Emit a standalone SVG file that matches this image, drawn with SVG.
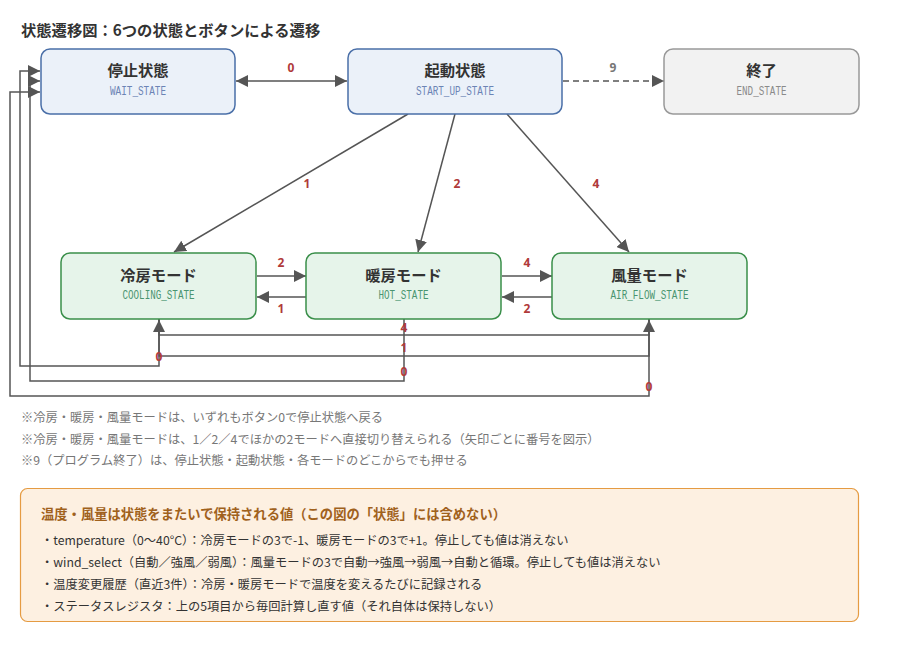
<svg xmlns="http://www.w3.org/2000/svg" width="900" height="650" viewBox="0 0 900 650">
<defs>
<marker id="arr" markerUnits="userSpaceOnUse" markerWidth="12" markerHeight="12" refX="12" refY="6" orient="auto-start-reverse" viewBox="0 0 12 12">
<path d="M0,0 L12,6 L0,12 z" fill="#555"/>
</marker>
<style>
text{font-family:"Noto Sans CJK JP","Noto Sans",sans-serif;dominant-baseline:central}
.ttl{font-size:15.3px;font-weight:bold;fill:#333}
.nt{font-size:15.3px;font-weight:bold;fill:#333;text-anchor:middle}
.sub{font-family:"Liberation Mono","DejaVu Sans Mono",monospace;font-size:12.5px;text-anchor:middle}
.sb{fill:#6b84b5}
.sg{fill:#4a9470}
.se{fill:#8a8a8a}
.blue{fill:#ebf1f9;stroke:#4a6fa8;stroke-width:1.5}
.green{fill:#e6f4ea;stroke:#3a8f4a;stroke-width:1.5}
.grey{fill:#f2f2f2;stroke:#999;stroke-width:1.5}
.e{fill:none;stroke:#555;stroke-width:1.5;marker-end:url(#arr)}
.lb{font-family:"Noto Sans",sans-serif;font-size:12px;font-weight:bold;fill:#b03a3a;text-anchor:middle}
.lg{fill:#777}
.note{font-size:12.25px;fill:#777}
.bt{font-size:13.3px;font-weight:bold;fill:#a0611c}
.bb{font-size:12.25px;fill:#333}
</style>
</defs>
<rect width="900" height="650" fill="#fff"/>
<text class="ttl" x="21" y="29">状態遷移図：6つの状態とボタンによる遷移</text>

<g id="connectors">
<line class="e" x1="236" y1="81" x2="347" y2="81" marker-start="url(#arr)"/>
<line class="e" x1="563" y1="81" x2="664" y2="81" stroke-dasharray="6 4"/>
<line class="e" x1="408" y1="114" x2="174" y2="252"/>
<line class="e" x1="455" y1="114" x2="418" y2="252"/>
<line class="e" x1="507" y1="114" x2="629" y2="252"/>
<line class="e" x1="257" y1="276" x2="306" y2="276"/>
<line class="e" x1="306" y1="297" x2="257" y2="297"/>
<line class="e" x1="502" y1="276" x2="552" y2="276"/>
<line class="e" x1="552" y1="297" x2="502" y2="297"/>
<path class="e" d="M159,319 V335 H649 V320"/>
<path class="e" d="M649,319 V356 H159 V320"/>
<path class="e" d="M159,319 V366 H20 V71 H40"/>
<path class="e" d="M404,319 V381 H30 V81 H40"/>
<path class="e" d="M649,319 V396 H10 V92 H40"/>
<text class="lb" x="291" y="67">0</text>
<text class="lb lg" x="613" y="67">9</text>
<text class="lb" x="307" y="183">1</text>
<text class="lb" x="457" y="183">2</text>
<text class="lb" x="596" y="183">4</text>
<text class="lb" x="281" y="262">2</text>
<text class="lb" x="281" y="308">1</text>
<text class="lb" x="527" y="262">4</text>
<text class="lb" x="527" y="308">2</text>
<text class="lb" x="404" y="327">4</text>
<text class="lb" x="404" y="347">1</text>
<text class="lb" x="159" y="356">0</text>
<text class="lb" x="404" y="371">0</text>
<text class="lb" x="649" y="386">0</text>
</g>

<g id="wait">
<rect class="blue" x="41" y="49" width="194" height="65" rx="9"/>
<text class="nt" x="138" y="69">停止状態</text>
<text class="sub sb" x="138" y="91.5" textLength="56" lengthAdjust="spacingAndGlyphs">WAIT_STATE</text>
</g>
<g id="startup">
<rect class="blue" x="348" y="49" width="214" height="65" rx="9"/>
<text class="nt" x="455" y="69">起動状態</text>
<text class="sub sb" x="455" y="91.5" textLength="78" lengthAdjust="spacingAndGlyphs">START_UP_STATE</text>
</g>
<g id="end">
<rect class="grey" x="664" y="49" width="195" height="65" rx="9"/>
<text class="nt" x="761.5" y="69">終了</text>
<text class="sub se" x="761.5" y="91.5" textLength="50" lengthAdjust="spacingAndGlyphs">END_STATE</text>
</g>
<g id="cooling">
<rect class="green" x="61" y="253" width="195" height="66" rx="9"/>
<text class="nt" x="158.5" y="273.5">冷房モード</text>
<text class="sub sg" x="158.5" y="296" textLength="72" lengthAdjust="spacingAndGlyphs">COOLING_STATE</text>
</g>
<g id="hot">
<rect class="green" x="306" y="253" width="195" height="66" rx="9"/>
<text class="nt" x="403.5" y="273.5">暖房モード</text>
<text class="sub sg" x="403.5" y="296" textLength="50" lengthAdjust="spacingAndGlyphs">HOT_STATE</text>
</g>
<g id="airflow">
<rect class="green" x="552" y="253" width="195" height="66" rx="9"/>
<text class="nt" x="649.5" y="273.5">風量モード</text>
<text class="sub sg" x="649.5" y="296" textLength="78" lengthAdjust="spacingAndGlyphs">AIR_FLOW_STATE</text>
</g>

<text class="note" x="21" y="417">※冷房・暖房・風量モードは、いずれもボタン0で停止状態へ戻る</text>
<text class="note" x="21" y="438.5">※冷房・暖房・風量モードは、1／2／4でほかの2モードへ直接切り替えられる（矢印ごとに番号を図示）</text>
<text class="note" x="21" y="460">※9（プログラム終了）は、停止状態・起動状態・各モードのどこからでも押せる</text>

<rect x="20.5" y="488.5" width="838" height="133" rx="7" fill="#fdf0e1" stroke="#e59b42" stroke-width="1.2"/>
<text class="bt" x="41" y="513">温度・風量は状態をまたいで保持される値（この図の「状態」には含めない）</text>
<text class="bb" x="41" y="540">・temperature（0〜40°C）：冷房モードの3で-1、暖房モードの3で+1。停止しても値は消えない</text>
<text class="bb" x="41" y="562">・wind_select（自動／強風／弱風）：風量モードの3で自動→強風→弱風→自動と循環。停止しても値は消えない</text>
<text class="bb" x="41" y="584">・温度変更履歴（直近3件）：冷房・暖房モードで温度を変えるたびに記録される</text>
<text class="bb" x="41" y="606">・ステータスレジスタ：上の5項目から毎回計算し直す値（それ自体は保持しない）</text>
</svg>
